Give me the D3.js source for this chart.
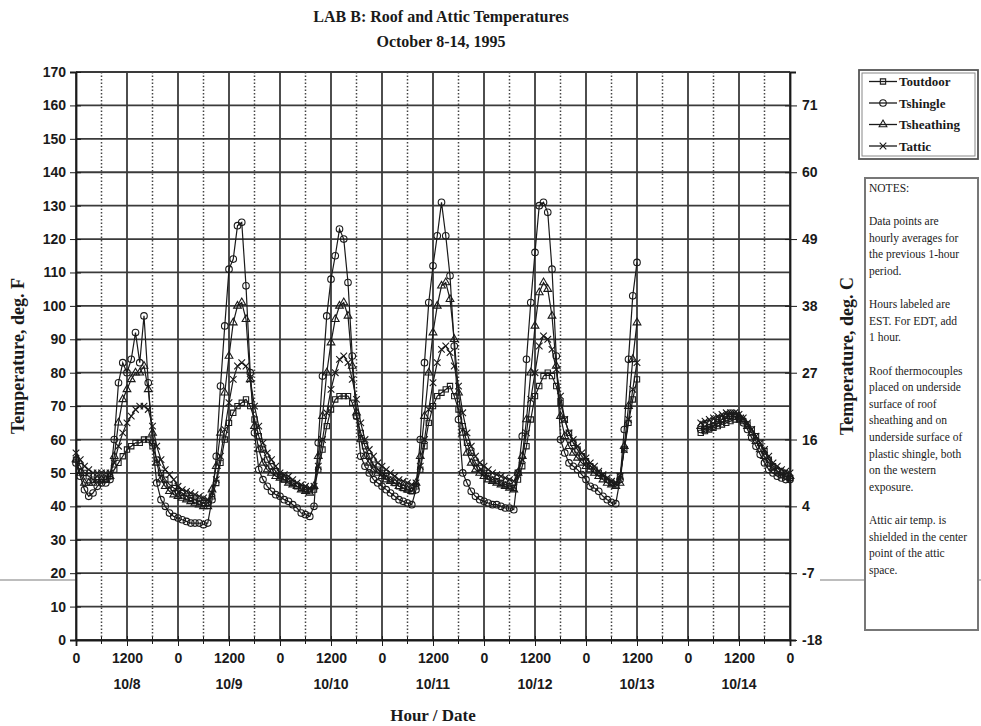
<!DOCTYPE html>
<html><head><meta charset="utf-8">
<script src="https://cdn.jsdelivr.net/npm/d3@7"></script>
<style>
html,body{margin:0;padding:0;background:#fff;}
svg{display:block;}
</style></head>
<body>
<svg id="c" width="981" height="726"></svg>
<script>
// ---------------- DATA ----------------
const titleLines = ["LAB B: Roof and Attic Temperatures", "October 8-14, 1995"];
const seriesNames = ["Toutdoor", "Tshingle", "Tsheathing", "Tattic"];
// hourly values, hour 0 = 10/8 00:00 ... hour 168 = 10/15 00:00 (null = no data)
const gap = new Array(14).fill(null);
const toutdoor = [].concat(
  [54,52,50,49,48,48,48,48,49,51,53,55,57,58,59,59,60,60,58,54,50,48,46.5,45.5],
  [44.5,44,43,42.5,42,41.5,41,41,43,47,53,60,65,68,70,71,72,70,66,61,57,54,52,50.5],
  [49,48,47.5,47,46,45.5,45,44.5,45,51,57,64,69,72,73,73,73,71,67,62,58,55,52.5,51],
  [50,49,48,47,46,45.5,45,44.5,46,51,58,65,70,73,74,75,76,73,69,64,59,56,53,51.5],
  [50,49,48,47.5,47,46.5,46,45.5,48,52,58,66,73,76,79,80,79,76,71,66,62,59,57,55],
  [53.5,52,51,50,49,48,47,46.5,49,57,65,72,78],
  gap,
  [62,62.5,63,63.5,64,64.5,65,65.5,66,66,65.5,64.5,63,61,59,56.5,54,52,50.5,49.5,49,48.5]
);
const tshingle = [].concat(
  [53,49,45,43,44,46,47,47,48,60,77,83,80,84,92,83,97,77,59,47,42,40,38,37],
  [36.5,36,35.5,35,35,35,34.5,35,42,55,76,94,111,114,124,125,106,80,62,51,48,46,44.5,43.5],
  [43,42,41.5,40.5,39.5,38,37.5,37,40,59,79,97,108,115,123,120,107,85,67,55,52,50,48,47],
  [46,45,44,43,42,41.5,41,40.5,45,60,83,101,112,121,131,121,109,88,66,50,47,44.5,43,42],
  [41.5,41,40.5,40.5,40,39.5,39.5,39,50,61,84,101,116,130,131,128,111,85,60,56,53,52,51,49.5],
  [48,46,45.5,44.5,43,42,41.2,40.8,48,63,84,103,113],
  gap,
  [63,63,63.5,64,65,66,66.5,67,67,66.5,65,63,60.5,58,55.5,53,51,50,49,48.5,48,48]
);
const tsheathing = [].concat(
  [54,50,47,47,47,48,48,48,49,55,65,72,75,78,80,80,82,75,62,53,48,46,44.5,43.5],
  [43,42.5,42,41.5,41,40.5,40,40,45,52,62,74,85,95,100,101,96,78,64,57,53,51,50,49],
  [48.5,48,47,46.5,46,45,44.5,44,46,55,67,80,89,96,100,101,97,82,68,60,55,53,51,50],
  [49,48,47.5,47,46,45.5,45,44.5,47,55,67,80,92,100,106,107,102,90,74,62,56,53,51,50],
  [49,48,47.5,47,46.5,46,45.5,45,50,55,66,80,94,104,107,105,97,82,67,61,58,56,54.5,53],
  [52,51,50,49,48,47,46.5,46,47,58,70,84,95],
  gap,
  [64,64,64.5,65,65.5,66,67,67.5,67.5,67,66,64,62,59.5,57,55,53,51.5,50.5,50,49.5,49]
);
const tattic = [].concat(
  [56,54,52,51,50,50,50,50,50,53,58,62,65,67,69,70,70,69,64,58,54,51,49.5,48],
  [46,45,44.5,44,43.5,43,42.5,42,44,48,55,63,71,78,82,83,82,78,70,64,59,56,54,52],
  [50,49.5,49,48,47,46.5,46,45.5,46,52,60,68,75,80,84,85,83,78,72,65,60,57,55,53],
  [52,51,50,49,48,47.5,47,46.5,47,52,60,69,77,83,87,88,86,82,76,68,62,58,55,53],
  [52,51,50,49.5,49,48.5,48,47.5,50,54,62,72,80,88,91,90,87,81,73,66,62,60,58,56],
  [54.5,53,52,50.5,49.5,48.5,47.5,47,49,57,66,75,83],
  gap,
  [65,65.5,66,66.5,67,67.5,68,68,68,67.5,66.5,65,63,61,59,57,55,53,52,51,50.5,50]
);
const yTicksF = d3.range(0, 171, 10);
const rightTicksF = [0, 20, 40, 60, 80, 100, 120, 140, 160];
const rightTickLabels = ["-18", "-7", "4", "16", "27", "38", "49", "60", "71"];
const xTickHours = d3.range(0, 169, 12);
const xTickLabels = ["0","1200","0","1200","0","1200","0","1200","0","1200","0","1200","0","1200","0"];
const dateHours = [12, 36, 60, 84, 108, 132, 156];
const dateLabels = ["10/8","10/9","10/10","10/11","10/12","10/13","10/14"];
const notesLines = ["NOTES:", "", "Data points are", "hourly averages for", "the previous 1-hour", "period.", "",
  "Hours labeled are", "EST.  For EDT, add", "1 hour.", "",
  "Roof thermocouples", "placed on underside", "surface of roof", "sheathing and on", "underside surface of",
  "plastic shingle, both", "on the western", "exposure.", "",
  "Attic air temp. is", "shielded in the center", "point of the attic", "space."];

// ---------------- DRAW ----------------
const svg = d3.select("#c");
const L = 76, R = 790, T = 72, B = 640;
const x = d3.scaleLinear().domain([0, 168]).range([L, R]);
const y = d3.scaleLinear().domain([0, 170]).range([B, T]);
const serif = "'Liberation Serif', 'Times New Roman', serif";
const sans = "'Liberation Sans', Arial, sans-serif";
const ink = "#1a1a1a";

// faint scan line across the page margins
svg.append("line").attr("x1", 0).attr("x2", L).attr("y1", 580).attr("y2", 580)
  .attr("stroke", "#bdbdbd").attr("stroke-width", 2);
svg.append("line").attr("x1", R + 30).attr("x2", 981).attr("y1", 580).attr("y2", 580)
  .attr("stroke", "#bdbdbd").attr("stroke-width", 2);

// title
svg.selectAll("text.title").data(titleLines).join("text")
  .attr("x", 441).attr("y", (d, i) => 22 + i * 25)
  .attr("text-anchor", "middle").attr("font-family", serif)
  .attr("font-weight", "bold").attr("font-size", 16).attr("fill", ink).text(d => d);

// grid
const grid = svg.append("g");
grid.selectAll("line.h").data(yTicksF).join("line")
  .attr("x1", L).attr("x2", R).attr("y1", d => y(d)).attr("y2", d => y(d))
  .attr("stroke", "#3a3a3a").attr("stroke-width", 1.8);
const vSolid = d3.range(0, 169, 12);
const vDot = d3.range(6, 168, 12);
grid.selectAll("line.vs").data(vSolid).join("line")
  .attr("x1", d => x(d)).attr("x2", d => x(d)).attr("y1", T).attr("y2", B)
  .attr("stroke", "#3a3a3a").attr("stroke-width", 1.8);
grid.selectAll("line.vd").data(vDot).join("line")
  .attr("x1", d => x(d)).attr("x2", d => x(d)).attr("y1", T).attr("y2", B)
  .attr("stroke", "#444").attr("stroke-width", 1.5).attr("stroke-dasharray", "1.5,2");

// left axis
const yAxisL = d3.axisLeft(y).tickValues(yTicksF).tickSize(6).tickFormat(d3.format("d"));
const gL = svg.append("g").attr("transform", `translate(${L},0)`).call(yAxisL);
gL.select(".domain").attr("stroke", ink).attr("stroke-width", 1.8);
gL.selectAll(".tick line").attr("stroke", ink).attr("x2", -6).attr("x1", 5);
gL.selectAll(".tick text").attr("x", -10).attr("font-family", sans).attr("font-weight", "bold")
  .attr("font-size", 14).attr("fill", ink);

// right axis
const gR = svg.append("g").attr("transform", `translate(${R},0)`)
  .call(d3.axisRight(y).tickValues(rightTicksF).tickSize(6).tickFormat((d, i) => rightTickLabels[i]));
gR.select(".domain").attr("stroke", ink).attr("stroke-width", 1.8);
gR.selectAll(".tick line").attr("stroke", ink).attr("x1", -5).attr("x2", 7);
gR.selectAll(".tick text").attr("x", 12).attr("font-family", sans).attr("font-weight", "bold")
  .attr("font-size", 14).attr("fill", ink);

// bottom axis
const gB = svg.append("g").attr("transform", `translate(0,${B})`)
  .call(d3.axisBottom(x).tickValues(xTickHours).tickSize(6).tickFormat((d, i) => xTickLabels[i]));
gB.select(".domain").attr("stroke", ink).attr("stroke-width", 1.8);
gB.selectAll(".tick line").attr("stroke", ink).attr("y1", -4).attr("y2", 6);
gB.selectAll(".tick text").attr("y", 13).attr("font-family", sans).attr("font-weight", "bold")
  .attr("font-size", 14).attr("fill", ink);
svg.append("g").selectAll("line").data(vDot).join("line")
  .attr("x1", d => x(d)).attr("x2", d => x(d)).attr("y1", B - 3).attr("y2", B + 4)
  .attr("stroke", ink).attr("stroke-width", 1);
svg.append("g").selectAll("text").data(dateLabels).join("text")
  .attr("x", (d, i) => x(dateHours[i])).attr("y", 689).attr("text-anchor", "middle")
  .attr("font-family", sans).attr("font-weight", "bold").attr("font-size", 14).attr("fill", ink).text(d => d);

// axis titles
svg.append("text").attr("x", 433).attr("y", 721).attr("text-anchor", "middle")
  .attr("font-family", serif).attr("font-weight", "bold").attr("font-size", 17).attr("fill", ink).text("Hour / Date");
svg.append("text").attr("transform", "translate(24,356) rotate(-90)").attr("text-anchor", "middle")
  .attr("font-family", serif).attr("font-weight", "bold").attr("font-size", 18).attr("fill", ink).text("Temperature,  deg. F");
svg.append("text").attr("transform", "translate(853,356) rotate(-90)").attr("text-anchor", "middle")
  .attr("font-family", serif).attr("font-weight", "bold").attr("font-size", 18).attr("fill", ink).text("Temperature,  deg. C");

// series
const hours = d3.range(0, 169);
const series = [
  {name: seriesNames[0], vals: toutdoor, sym: d3.symbolSquare, size: 28},
  {name: seriesNames[1], vals: tshingle, sym: d3.symbolCircle, size: 34},
  {name: seriesNames[2], vals: tsheathing, sym: d3.symbolTriangle, size: 26},
  {name: seriesNames[3], vals: tattic, sym: d3.symbolTimes, size: 30}
];
const line = d3.line().defined(d => d[1] != null).x(d => x(d[0])).y(d => y(d[1]));
const gS = svg.append("g");
series.forEach(s => {
  const pts = hours.map(h => [h, s.vals[h]]);
  gS.append("path").datum(pts).attr("d", line).attr("fill", "none")
    .attr("stroke", ink).attr("stroke-width", 1.2);
  gS.append("g").selectAll("path").data(pts.filter(p => p[1] != null)).join("path")
    .attr("transform", p => `translate(${x(p[0])},${y(p[1])})`)
    .attr("d", d3.symbol(s.sym, s.size)).attr("fill", "none")
    .attr("stroke", ink).attr("stroke-width", 1.1);
});

// legend
const lg = svg.append("g").attr("transform", "translate(859,70)");
lg.append("rect").attr("x", 0).attr("y", 0).attr("width", 119).attr("height", 89)
  .attr("fill", "#fff").attr("stroke", "#555").attr("stroke-width", 1.8);
lg.append("rect").attr("x", 3).attr("y", 3).attr("width", 113).attr("height", 83)
  .attr("fill", "none").attr("stroke", "#888").attr("stroke-width", 1);
series.forEach((s, i) => {
  const yy = 11.5 + i * 21.5;
  lg.append("line").attr("x1", 10).attr("x2", 38).attr("y1", yy).attr("y2", yy)
    .attr("stroke", ink).attr("stroke-width", 1.3);
  lg.append("path").attr("transform", `translate(24,${yy})`).attr("d", d3.symbol(s.sym, s.size))
    .attr("fill", "none").attr("stroke", ink).attr("stroke-width", 1.1);
  lg.append("text").attr("x", 40).attr("y", yy + 4.5).attr("font-family", serif)
    .attr("font-weight", "bold").attr("font-size", 13).attr("fill", ink).text(s.name);
});

// notes box
const nb = svg.append("g").attr("transform", "translate(865,178)");
nb.append("rect").attr("x", 0).attr("y", 0).attr("width", 113).attr("height", 452)
  .attr("fill", "#fff").attr("stroke", "#777").attr("stroke-width", 2);
nb.selectAll("text").data(notesLines).join("text")
  .attr("x", 4).attr("y", (d, i) => 14 + i * 16.6)
  .attr("font-family", serif).attr("font-size", 11.5).attr("fill", ink).text(d => d);
</script>
</body></html>
